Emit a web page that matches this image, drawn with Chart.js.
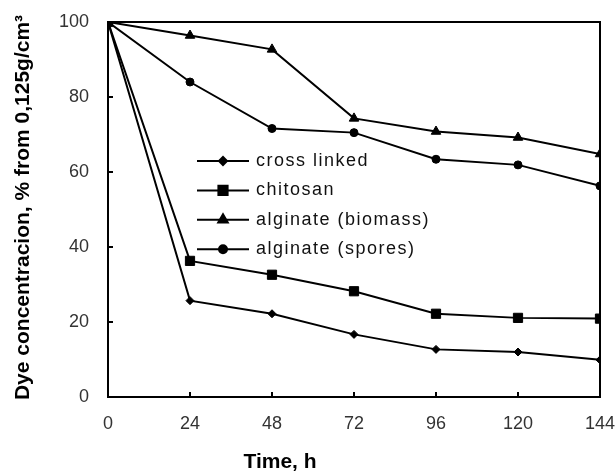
<!DOCTYPE html>
<html>
<head>
<meta charset="utf-8">
<script src="https://cdn.jsdelivr.net/npm/chart.js@4.4.1/dist/chart.umd.min.js"></script>
<style>
  html, body { margin: 0; padding: 0; background: #fff; }
</style>
</head>
<body>
<canvas id="dyeChart" width="616" height="473"></canvas>
<script>
// Time points (h)
const hours = [0, 24, 48, 72, 96, 120, 144];
const yTicks = [0, 20, 40, 60, 80, 100];

// Dye concentration, % of initial 0,125 g/cm3
const crossLinked = [100, 25.7, 22.2, 16.7, 12.7, 12.0, 9.9];
const chitosan = [100, 36.3, 32.6, 28.2, 22.2, 21.1, 20.9];
const alginateBiomass = [100, 96.4, 92.7, 74.3, 70.8, 69.2, 64.8];
const alginateSpores = [100, 84.0, 71.6, 70.5, 63.4, 61.9, 56.3];

const seriesNames = ['cross linked', 'chitosan', 'alginate (biomass)', 'alginate (spores)'];
const seriesValues = [crossLinked, chitosan, alginateBiomass, alginateSpores];
const pointStyles = ['rectRot', 'rect', 'triangle', 'circle'];
const pointSizes = [4, 6.5, 5.5, 4];

const FONT = '"Liberation Sans", Arial, sans-serif';

// Box, inward tick marks, legend inside the plot and axis titles
const framePlugin = {
    id: 'frame',
    beforeDatasetsDraw(chart) {
        const { ctx, chartArea: a, scales: { x, y } } = chart;
        ctx.save();
        ctx.strokeStyle = '#000';
        ctx.lineWidth = 2;
        ctx.strokeRect(a.left, a.top, a.right - a.left, a.bottom - a.top);
        ctx.beginPath();
        hours.slice(1, -1).forEach(h => {
            const px = x.getPixelForValue(h);
            ctx.moveTo(px, a.bottom);
            ctx.lineTo(px, a.bottom - 5);
        });
        yTicks.slice(1, -1).forEach(v => {
            const py = y.getPixelForValue(v);
            ctx.moveTo(a.left, py);
            ctx.lineTo(a.left + 5, py);
        });
        ctx.stroke();
        ctx.restore();
    },
    afterDraw(chart) {
        const { ctx, chartArea: a } = chart;
        ctx.save();
        // legend
        ctx.letterSpacing = '1.5px';
        ctx.font = '18px ' + FONT;
        ctx.textBaseline = 'middle';
        ctx.textAlign = 'left';
        chart.data.datasets.forEach((ds, i) => {
            const rowY = 161 + i * 29.4;
            ctx.strokeStyle = '#000';
            ctx.lineWidth = 2;
            ctx.beginPath();
            ctx.moveTo(197, rowY);
            ctx.lineTo(249, rowY);
            ctx.stroke();
            ctx.fillStyle = '#000';
            Chart.helpers.drawPoint(ctx, {
                pointStyle: ds.pointStyle,
                radius: ds.pointRadius,
                rotation: 0,
                borderWidth: 1
            }, 223, rowY);
            ctx.fillStyle = '#111';
            ctx.fillText(ds.label, 256, rowY);
        });
        // axis titles
        ctx.letterSpacing = '0px';
        ctx.fillStyle = '#000';
        ctx.font = 'bold 21px ' + FONT;
        ctx.textAlign = 'center';
        ctx.fillText('Time, h', 280, 462);
        ctx.translate(23, (a.top + a.bottom) / 2 - 2);
        ctx.rotate(-Math.PI / 2);
        ctx.fillText('Dye concentracion, % from 0,125g/cm\u00B3', 0, 0);
        ctx.restore();
    }
};

// drop the label overhang padding so the plot box sits where the reference has it
function noOverhang(scale) {
    scale.paddingTop = 0;
    scale.paddingBottom = 0;
    scale.paddingLeft = 0;
    scale.paddingRight = 0;
}

const ctx = document.getElementById('dyeChart').getContext('2d');
new Chart(ctx, {
    type: 'line',
    data: {
        datasets: seriesNames.map((name, i) => ({
            label: name,
            data: hours.map((h, k) => ({ x: h, y: seriesValues[i][k] })),
            borderColor: '#000',
            backgroundColor: '#000',
            borderWidth: 2,
            tension: 0,
            pointStyle: pointStyles[i],
            pointRadius: pointSizes[i],
            pointBackgroundColor: '#000',
            pointBorderColor: '#000',
            pointBorderWidth: 1
        }))
    },
    options: {
        responsive: false,
        animation: false,
        layout: { padding: { top: 22, right: 16, bottom: 0, left: 0 } },
        plugins: {
            legend: { display: false },
            tooltip: { enabled: false }
        },
        scales: {
            x: {
                type: 'linear',
                min: 0,
                max: 144,
                afterBuildTicks: scale => { scale.ticks = hours.map(v => ({ value: v })); },
                afterFit: scale => { scale.height = 76; noOverhang(scale); },
                grid: { display: false, drawTicks: false },
                border: { display: false },
                ticks: {
                    autoSkip: false,
                    maxRotation: 0,
                    padding: 16,
                    color: '#333',
                    font: { family: FONT, size: 18 }
                }
            },
            y: {
                min: 0,
                max: 100,
                afterBuildTicks: scale => { scale.ticks = yTicks.map(v => ({ value: v })); },
                afterFit: scale => { scale.width = 108; noOverhang(scale); },
                grid: { display: false, drawTicks: false },
                border: { display: false },
                ticks: {
                    padding: 19,
                    color: '#333',
                    font: { family: FONT, size: 18 }
                }
            }
        }
    },
    plugins: [framePlugin]
});
</script>
</body>
</html>
